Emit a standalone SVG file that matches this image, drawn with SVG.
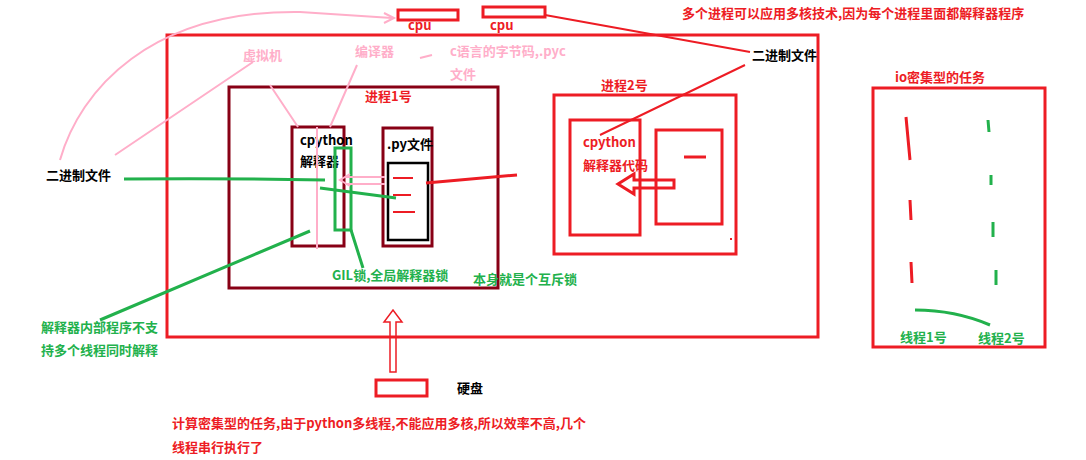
<svg xmlns="http://www.w3.org/2000/svg" width="1086" height="460" viewBox="0 0 1086 460">
<style>
text{font-family:"Noto Sans CJK SC","Liberation Sans",sans-serif;font-size:13px;font-weight:bold}
.r{fill:#ed1c24}.g{fill:#22b14c}.k{fill:#000}.p{fill:#ffaec9}
.R{stroke:#ed1c24;fill:none;stroke-width:3}
.D{stroke:#880015;fill:none;stroke-width:3}
.G{stroke:#22b14c;fill:none;stroke-width:3}
.P{stroke:#ffaec9;fill:none;stroke-width:2}
</style>
<rect width="1086" height="460" fill="#fff"/>
<g id="main"><rect x="167" y="35" width="651" height="302" class="R" stroke-width="4"/></g>
<g id="cpu1"><rect x="398" y="10" width="60" height="10" class="R"/><text x="408" y="30" class="r">cpu</text></g>
<g id="cpu2"><rect x="483" y="7" width="62" height="10" class="R"/><text x="490" y="30" class="r">cpu</text></g>
<g id="proc1"><rect x="229" y="87" width="269" height="201" class="D"/><text x="365" y="101" class="r">进程1号</text></g>
<g id="cpython1"><rect x="292" y="127" width="52" height="119" class="D"/><text x="300" y="145" class="k">cpython</text><text x="300" y="166" class="k">解释器</text></g>
<g id="gil"><rect x="335" y="148" width="16" height="82" class="G" stroke-width="2"/></g>
<g id="py"><rect x="383" y="128" width="49" height="118" class="D"/><text x="387" y="149" class="k">.py文件</text><rect x="388" y="163" width="40" height="77" fill="none" stroke="#000" stroke-width="2.5"/>
<path d="M393 178h20M393 195h18M393 212h22" stroke="#ed1c24" stroke-width="2"/></g>
<g id="proc2"><rect x="554" y="95" width="182" height="159" class="R"/><text x="601" y="90" class="r">进程2号</text>
<rect x="570" y="120" width="70" height="115" class="R"/><text x="583" y="147" class="r">cpython</text><text x="583" y="170" class="r">解释器代码</text>
<rect x="656" y="130" width="66" height="94" class="R"/><path d="M684 157h22" class="R"/><rect x="730" y="238" width="2" height="2" fill="#ed1c24"/></g>
<g id="io"><rect x="873" y="88" width="172" height="259" class="R"/><text x="895" y="82" class="r">io密集型的任务</text>
<path d="M906 117l4 43M910 200l1 20M911 262l1 21" stroke="#ed1c24" stroke-width="3" fill="none"/>
<path d="M988 120l1 12M991 175v10M993 222v15M996 270v15" class="G" stroke-width="2"/>
<text x="900" y="342" class="g">线程1号</text><text x="978" y="343" class="g">线程2号</text></g>
<g id="disk"><rect x="376" y="380" width="51" height="16" class="R"/><text x="457" y="393" class="k">硬盘</text></g>
<g id="connectors">
<path d="M60 160C80 90 150 10 300 12L392 18" class="P"/><path d="M384 13l10 5-10 5" class="P"/>
<path d="M115 155L253 62M270 85l28 42M357 65l-27 62M420 58l12-3M317 127v122" class="P"/>
<path d="M385 177h-40M385 184h-40M350 174l-10 6 10 6" class="P"/>
<path d="M426 183L517 175" class="R" stroke-width="2"/>
<path d="M124 179Q220 178 325 180M320 188l76 10M310 231L100 320M351 230l12 38M915 310q40 0 75 15" class="G" stroke-width="2"/>
<path d="M600 135L745 65M545 15L750 52" stroke="#ed1c24" stroke-width="2"/>
<path d="M674 180h-40v-6l-16 10 16 10v-6h40z" class="R" stroke-width="2"/>
<path d="M390 372v-50h-6l9-12 9 12h-6v50z" stroke="#ed1c24" stroke-width="1.5" fill="none"/>
</g>
<g id="labels">
<text x="682" y="18" class="r">多个进程可以应用多核技术,因为每个进程里面都解释器程序</text>
<text x="752" y="60" class="k">二进制文件</text>
<text x="46" y="180" class="k">二进制文件</text>
<text x="243" y="60" class="p">虚拟机</text><text x="355" y="56" class="p">编译器</text>
<text x="450" y="56" class="p">c语言的字节码,.pyc</text><text x="450" y="79" class="p">文件</text>
<text x="332" y="280" class="g">GIL锁,全局解释器锁</text><text x="473" y="284" class="g">本身就是个互斥锁</text>
<text x="41" y="332" class="g">解释器内部程序不支</text><text x="41" y="355" class="g">持多个线程同时解释</text>
<text x="172" y="428" class="r">计算密集型的任务,由于python多线程,不能应用多核,所以效率不高,几个</text>
<text x="172" y="452" class="r">线程串行执行了</text>
</g>
</svg>
